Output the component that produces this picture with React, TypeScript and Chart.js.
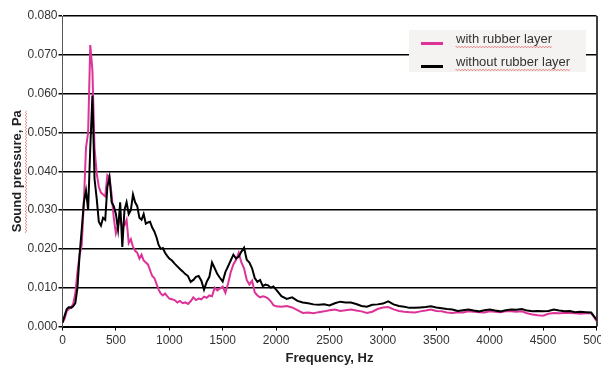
import React, { useEffect, useRef } from 'react';
import { Chart, registerables } from 'chart.js';

Chart.register(...registerables);

// Frequency grid (Hz)
const frequencies = [
  0, 20, 40, 60, 80, 100, 120, 140, 160, 180, 200, 220, 240, 260, 280, 300, 320, 340, 360, 380,
  400, 420, 440, 460, 480, 500, 520, 540, 560, 580, 600, 620, 640, 660, 680, 700, 720, 740, 760, 780,
  800, 820, 840, 860, 880, 900, 920, 940, 960, 980, 1000,
  1025, 1050, 1075, 1100, 1125, 1150, 1175, 1200, 1225, 1250, 1275, 1300, 1325, 1350, 1375, 1400,
  1425, 1450, 1475, 1500, 1525, 1550, 1575, 1600, 1625, 1650, 1675, 1700, 1725, 1750, 1775, 1800,
  1825, 1850, 1875, 1900, 1925, 1950, 1975, 2000,
  2050, 2100, 2150, 2200, 2250, 2300, 2350, 2400, 2450, 2500, 2550, 2600, 2650, 2700, 2750, 2800,
  2850, 2900, 2950, 3000, 3050, 3100, 3150, 3200, 3250, 3300, 3350, 3400, 3450, 3500, 3550, 3600,
  3650, 3700, 3750, 3800, 3850, 3900, 3950, 4000, 4050, 4100, 4150, 4200, 4250, 4300, 4350, 4400,
  4450, 4500, 4550, 4600, 4650, 4700, 4750, 4800, 4850, 4900, 4950, 5000,
];

// Sound pressure (Pa) with rubber layer
const withRubber = [
  0.0010, 0.0020, 0.0040, 0.0045, 0.0050, 0.0058, 0.0085, 0.0140, 0.0185, 0.0210, 0.0320, 0.0460,
  0.0500, 0.0725, 0.0660, 0.0460, 0.0395, 0.0360, 0.0345, 0.0340, 0.0335, 0.0390, 0.0385, 0.0340,
  0.0280, 0.0240, 0.0260, 0.0280, 0.0257, 0.0260, 0.0275, 0.0215, 0.0225, 0.0205, 0.0195, 0.0190,
  0.0175, 0.0185, 0.0170, 0.0165, 0.0160, 0.0145, 0.0130, 0.0125, 0.0110, 0.0095, 0.0085, 0.0080,
  0.0085, 0.0078, 0.0072,
  0.0070, 0.0068, 0.0062, 0.0066, 0.0060, 0.0062, 0.0058, 0.0065, 0.0075, 0.0068, 0.0072, 0.0070,
  0.0077, 0.0074, 0.0080, 0.0078, 0.0100, 0.0093, 0.0098, 0.0103, 0.0087, 0.0110, 0.0140, 0.0160,
  0.0172, 0.0190, 0.0165, 0.0150, 0.0120, 0.0108, 0.0118, 0.0088, 0.0080, 0.0075, 0.0078, 0.0076,
  0.0072, 0.0065, 0.0055, 0.0052,
  0.0051, 0.0053, 0.0049, 0.0042, 0.0035, 0.0036, 0.0034, 0.0037, 0.0039, 0.0042, 0.0044, 0.0040,
  0.0042, 0.0044, 0.0041, 0.0039, 0.0035, 0.0038, 0.0045, 0.0049, 0.0050, 0.0044, 0.0040, 0.0038,
  0.0037, 0.0036, 0.0039, 0.0041, 0.0044, 0.0040, 0.0039, 0.0036, 0.0035, 0.0037, 0.0036, 0.0039,
  0.0038, 0.0037, 0.0036, 0.0039, 0.0038, 0.0037, 0.0039, 0.0039, 0.0038, 0.0039, 0.0034, 0.0031,
  0.0029, 0.0028, 0.0033, 0.0035, 0.0034, 0.0035, 0.0035, 0.0034, 0.0033, 0.0034, 0.0035, 0.0014,
];

// Sound pressure (Pa) without rubber layer
const withoutRubber = [
  0.0010, 0.0028, 0.0045, 0.0050, 0.0048, 0.0052, 0.0060, 0.0100, 0.0185, 0.0250, 0.0320, 0.0350,
  0.0300, 0.0460, 0.0595, 0.0380, 0.0330, 0.0270, 0.0260, 0.0280, 0.0275, 0.0360, 0.0385, 0.0320,
  0.0310, 0.0290, 0.0250, 0.0320, 0.0205, 0.0300, 0.0320, 0.0290, 0.0300, 0.0340, 0.0320, 0.0310,
  0.0280, 0.0275, 0.0290, 0.0265, 0.0268, 0.0270, 0.0255, 0.0245, 0.0230, 0.0210, 0.0200, 0.0202,
  0.0190, 0.0182, 0.0175,
  0.0170, 0.0162, 0.0155, 0.0148, 0.0142, 0.0135, 0.0130, 0.0115, 0.0120, 0.0128, 0.0130, 0.0118,
  0.0095, 0.0115, 0.0128, 0.0165, 0.0150, 0.0135, 0.0125, 0.0116, 0.0140, 0.0155, 0.0170, 0.0185,
  0.0175, 0.0180, 0.0193, 0.0203, 0.0172, 0.0165, 0.0150, 0.0125, 0.0115, 0.0120, 0.0104, 0.0108,
  0.0106, 0.0100, 0.0103, 0.0095,
  0.0078, 0.0071, 0.0075, 0.0066, 0.0062, 0.0060, 0.0057, 0.0056, 0.0057, 0.0054, 0.0060, 0.0064,
  0.0062, 0.0062, 0.0058, 0.0053, 0.0051, 0.0056, 0.0057, 0.0059, 0.0065, 0.0057, 0.0053, 0.0051,
  0.0048, 0.0048, 0.0049, 0.0050, 0.0052, 0.0049, 0.0047, 0.0045, 0.0044, 0.0040, 0.0042, 0.0044,
  0.0041, 0.0039, 0.0042, 0.0044, 0.0041, 0.0039, 0.0042, 0.0044, 0.0043, 0.0045, 0.0041, 0.0039,
  0.0040, 0.0039, 0.0040, 0.0044, 0.0041, 0.0039, 0.0040, 0.0037, 0.0038, 0.0037, 0.0036, 0.0018,
];

const seriesLabels = ['with rubber layer', 'without rubber layer'];
const seriesColors = ['#dd3398', '#000000'];
const xTitle = 'Frequency, Hz';
const yTitle = 'Sound pressure, Pa';

const FONT = '"Liberation Sans", Arial, sans-serif';

function squiggle(ctx: CanvasRenderingContext2D, x1: number, x2: number, y: number) {
  ctx.beginPath();
  let up = true;
  ctx.moveTo(x1, y);
  for (let x = x1; x <= x2; x += 1.5) {
    ctx.lineTo(x, up ? y - 0.8 : y + 0.8);
    up = !up;
  }
  ctx.stroke();
}

const framePlugin = {
  id: 'framePlugin',
  afterDraw(chart: any) {
    const { ctx, chartArea } = chart;
    ctx.save();
    // right border
    ctx.strokeStyle = '#000';
    ctx.lineWidth = 1.5;
    ctx.beginPath();
    ctx.moveTo(chartArea.right + 0.5, chartArea.top);
    ctx.lineTo(chartArea.right + 0.5, chartArea.bottom);
    ctx.stroke();

    // legend box
    const bx = chartArea.right - 187.5;
    const by = chartArea.top + 14;
    const bw = 177;
    const bh = 42;
    ctx.fillStyle = '#f4f3f1';
    ctx.fillRect(bx, by, bw, bh);
    ctx.font = `13px ${FONT}`;
    ctx.textBaseline = 'middle';
    ctx.textAlign = 'left';
    const rows = [by + 9.5, by + 32.5];
    chart.data.datasets.forEach((ds: any, i: number) => {
      const ty = rows[i];
      ctx.strokeStyle = ds.borderColor;
      ctx.lineWidth = 3;
      ctx.beginPath();
      ctx.moveTo(bx + 12, ty + 4);
      ctx.lineTo(bx + 34, ty + 4);
      ctx.stroke();
      ctx.fillStyle = '#333';
      ctx.fillText(ds.label, bx + 47, ty);
      const w = ctx.measureText(ds.label).width;
      ctx.strokeStyle = 'rgba(230,70,70,0.8)';
      ctx.lineWidth = 0.8;
      squiggle(ctx, bx + 47, bx + 47 + w, ty + 7.5);
    });

    // squiggle under y title
    ctx.font = `bold 13px ${FONT}`;
    const tw = ctx.measureText(yTitle).width;
    const cy = (chartArea.top + chartArea.bottom) / 2;
    ctx.save();
    ctx.translate(26, cy);
    ctx.rotate(-Math.PI / 2);
    ctx.strokeStyle = 'rgba(230,70,70,0.8)';
    ctx.lineWidth = 0.8;
    squiggle(ctx, -tw / 2, tw / 2, 0);
    ctx.restore();
    ctx.restore();
  },
};

export default function App() {
  const ref = useRef<HTMLCanvasElement>(null);

  useEffect(() => {
    const canvas = ref.current;
    if (!canvas) return;
    const chart = new Chart(canvas, {
      type: 'line',
      data: {
        datasets: [
          {
            label: seriesLabels[0],
            data: frequencies.map((f, i) => ({ x: f, y: withRubber[i] })),
            borderColor: seriesColors[0],
            borderWidth: 2,
            pointRadius: 0,
            tension: 0,
            fill: false,
            order: 2,
          },
          {
            label: seriesLabels[1],
            data: frequencies.map((f, i) => ({ x: f, y: withoutRubber[i] })),
            borderColor: seriesColors[1],
            borderWidth: 2,
            pointRadius: 0,
            tension: 0,
            fill: false,
            order: 1,
          },
        ],
      },
      options: {
        animation: false,
        responsive: false,
        layout: { padding: { top: 16, right: 4.5, left: 0, bottom: 0 } },
        plugins: { legend: { display: false }, tooltip: { enabled: false } },
        scales: {
          x: {
            type: 'linear',
            min: 0,
            max: 5000,
            ticks: {
              stepSize: 500,
              autoSkip: false,
              maxRotation: 0,
              color: '#333',
              padding: 3,
              font: { family: FONT, size: 12 },
              callback: (v: any) => String(Math.round(Number(v))),
            },
            grid: {
              drawOnChartArea: false,
              drawTicks: true,
              tickLength: 4,
              color: '#000',
              lineWidth: 1,
            },
            border: { display: true, color: '#000', width: 2 },
            title: {
              display: true,
              text: xTitle,
              color: '#222',
              font: { family: FONT, size: 13, weight: 'bold' },
              padding: { top: 0, bottom: 8 },
            },
            afterFit(s: any) {
              s.height = 47.5;
              s.paddingLeft = 0;
              s.paddingRight = 0;
            },
          },
          y: {
            type: 'linear',
            min: 0,
            max: 0.08,
            ticks: {
              stepSize: 0.01,
              color: '#333',
              padding: 1,
              font: { family: FONT, size: 12 },
              callback: (v: any) => Number(v).toFixed(3),
            },
            grid: {
              color: '#000',
              lineWidth: 1.5,
              tickLength: 4,
              drawTicks: true,
            },
            border: { display: true, color: '#555', width: 1 },
            title: {
              display: true,
              text: yTitle,
              color: '#222',
              font: { family: FONT, size: 13, weight: 'bold' },
              padding: { top: 10, bottom: 0 },
            },
            afterFit(s: any) {
              s.width = 62.5;
            },
          },
        },
      },
      plugins: [framePlugin],
    } as any);
    return () => chart.destroy();
  }, []);

  return (
    <div style={{ position: 'absolute', left: 0, top: 0, width: 601, height: 374, background: '#fff' }}>
      <canvas ref={ref} width={601} height={374} />
    </div>
  );
}
